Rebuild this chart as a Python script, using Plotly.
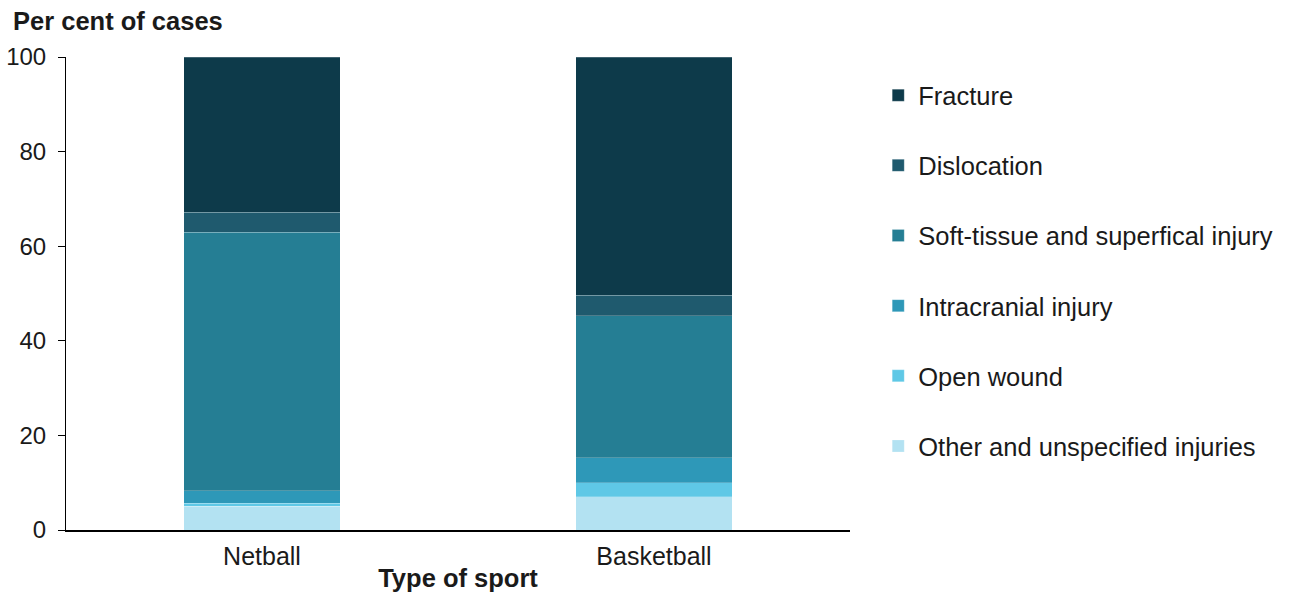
import plotly.graph_objects as go

sports = ["Netball", "Basketball"]

# Per cent of cases by injury type (bottom to top of each stacked bar)
other_unspecified = [5.0, 7.0]
open_wound = [0.7, 3.0]
intracranial = [2.6, 5.3]
soft_tissue = [54.7, 30.0]
dislocation = [4.2, 4.35]
fracture = [32.8, 50.35]

series = [
    ("Other and unspecified injuries", other_unspecified, "#b3e2f2"),
    ("Open wound", open_wound, "#5fc8e6"),
    ("Intracranial injury", intracranial, "#2e98b8"),
    ("Soft-tissue and superfical injury", soft_tissue, "#257e94"),
    ("Dislocation", dislocation, "#1f5a6e"),
    ("Fracture", fracture, "#0d3a4a"),
]

FONT = "Liberation Sans, Arial, sans-serif"

fig = go.Figure()
# legendrank puts the top segment (Fracture) first in the legend
for i, (name, vals, col) in enumerate(series):
    fig.add_trace(go.Bar(
        x=sports, y=vals, name=name, legendgroup=f"g{i}", legendrank=100 - i,
        marker=dict(color=col, line=dict(color="rgba(255,255,255,0.35)", width=0.6)),
        width=0.4,
        hovertemplate="%{x}<br>" + name + ": %{y}%<extra></extra>",
    ))

fig.update_layout(
    barmode="stack",
    width=1290, height=592,
    margin=dict(l=66, r=440, t=57, b=62),
    plot_bgcolor="white", paper_bgcolor="white",
    font=dict(family=FONT, size=24, color="#1a1a1a"),
    showlegend=True,
    legend=dict(
        x=1.036, xanchor="left", y=0.968, yanchor="top",
        traceorder="grouped", tracegroupgap=34,
        font=dict(size=25.5, color="#1a1a1a"),
        bgcolor="rgba(0,0,0,0)",
    ),
    xaxis=dict(
        automargin=False,
        showline=True, linecolor="black", linewidth=1.5,
        ticks="", tickfont=dict(size=25), ticklabelstandoff=3,
        title=dict(text="<b>Type of sport</b>", font=dict(size=25.5), standoff=2),
        range=[-0.5, 1.5],
    ),
    yaxis=dict(
        automargin=False,
        range=[0, 100], dtick=20,
        showline=True, linecolor="black", linewidth=1,
        ticks="outside", ticklen=7, tickcolor="black",
        ticklabelstandoff=7,
        showgrid=False, zeroline=False,
        tickfont=dict(size=24),
    ),
    annotations=[dict(
        text="<b>Per cent of cases</b>", xref="paper", yref="paper",
        x=-66 / 784 + 11 / 784, y=1.0, xanchor="left", yanchor="bottom",
        yshift=20, showarrow=False, font=dict(size=25.5, color="#1a1a1a"),
    )],
)

fig.write_html("out.html")
